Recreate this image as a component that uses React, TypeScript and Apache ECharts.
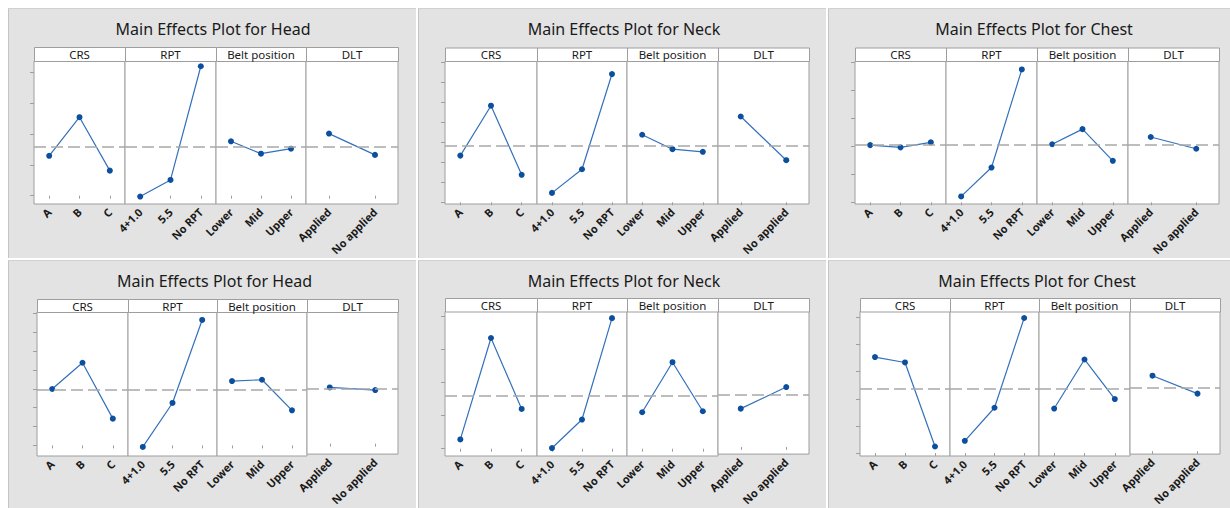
import React, { useEffect, useRef } from 'react';
import * as echarts from 'echarts';

// ---------- data ----------
const factorNames = ['CRS', 'RPT', 'Belt position', 'DLT'];
const crsLevels = ['A', 'B', 'C'];
const rptLevels = ['4+1.0', '5.5', 'No RPT'];
const beltLevels = ['Lower', 'Mid', 'Upper'];
const dltLevels = ['Applied', 'No applied'];
const levelSets = [crsLevels, rptLevels, beltLevels, dltLevels];

const plotTitles = [
  'Main Effects Plot for Head',
  'Main Effects Plot for Neck',
  'Main Effects Plot for Chest',
  'Main Effects Plot for Head',
  'Main Effects Plot for Neck',
  'Main Effects Plot for Chest',
];

// mean response per factor level (CRS, RPT, Belt position, DLT)
const headTopMeans = [[1.29, 2.54, 0.81], [-0.03, 0.51, 4.19], [1.76, 1.36, 1.52], [2.01, 1.32]];
const neckTopMeans = [[2.33, 4.82, 1.37], [0.47, 1.65, 6.4], [3.37, 2.65, 2.52], [4.28, 2.1]];
const chestTopMeans = [[2.04, 1.96, 2.14], [0.21, 1.24, 4.74], [2.07, 2.61, 1.48], [2.33, 1.91]];
const headBottomMeans = [[2.99, 4.38, 1.42], [-0.08, 2.25, 6.65], [3.41, 3.48, 1.86], [3.02, 2.88]];
const neckBottomMeans = [[0.28, 3.34, 1.2], [0.02, 0.88, 3.94], [1.1, 2.61, 1.13], [1.17, 1.83]];
const chestBottomMeans = [[3.54, 3.34, 0.24], [0.45, 1.67, 4.98], [1.64, 3.45, 1.99], [2.82, 2.15]];
const plotMeans = [headTopMeans, neckTopMeans, chestTopMeans, headBottomMeans, neckBottomMeans, chestBottomMeans];

const grandMeans = [1.57, 2.83, 2.06, 2.94, 1.59, 2.36];

const yTicks = [
  [0, 1, 2, 3, 4],
  [0, 1, 2, 3, 4, 5, 6, 7],
  [0, 1, 2, 3, 4, 5],
  [0, 1, 2, 3, 4, 5, 6, 7],
  [0, 1, 2, 3, 4],
  [0, 1, 2, 3, 4, 5],
];
const yRanges = [
  [-0.27, 4.36],
  [-0.085, 7.05],
  [-0.06, 5.04],
  [-0.56, 7.07],
  [-0.22, 4.14],
  [-0.11, 5.22],
];

// ---------- layout ----------
const tiles = [
  [8, 8, 408, 250],
  [418, 8, 408, 250],
  [828, 8, 402, 250],
  [8, 260, 408, 248],
  [418, 260, 408, 248],
  [828, 260, 402, 248],
];
const frames = [
  { xs: [34, 125, 216, 306, 398], hTop: 47, pTop: 61, pBot: 204, titleY: 29 },
  { xs: [445, 537, 627, 718, 809], hTop: 47.5, pTop: 61, pBot: 204, titleY: 29 },
  { xs: [855, 946, 1037, 1128, 1219], hTop: 47.5, pTop: 61, pBot: 204, titleY: 29 },
  { xs: [37, 128, 217, 307, 398], hTop: 299, pTop: 312, pBot: 456, titleY: 281 },
  { xs: [445, 537, 627, 718, 809], hTop: 298, pTop: 311.5, pBot: 456, titleY: 281 },
  { xs: [860, 950, 1039, 1130, 1220], hTop: 298, pTop: 311.5, pBot: 456, titleY: 281 },
];

const FONT = '"Noto Sans", "Open Sans", Arial, sans-serif';
const LINE_BLUE = '#3370bb';
const DOT_BLUE = '#0b4f9e';
const FRAME_GREY = '#9e9e9e';

function buildOption() {
  const grid: any[] = [];
  const xAxis: any[] = [];
  const yAxis: any[] = [];
  const series: any[] = [];
  const graphic: any[] = [];

  tiles.forEach(([x, y, w, h]) => {
    graphic.push({
      type: 'rect', z: -10, silent: true,
      shape: { x, y, width: w, height: h },
      style: { fill: '#e3e3e3' },
    });
    graphic.push({
      type: 'line', z: -9, silent: true,
      shape: { x1: x + 0.5, y1: y, x2: x + 0.5, y2: y + h },
      style: { stroke: '#c4c4c4', lineWidth: 1 },
    });
    graphic.push({
      type: 'line', z: -9, silent: true,
      shape: { x1: x, y1: y + 0.5, x2: x + w, y2: y + 0.5 },
      style: { stroke: '#d0d0d0', lineWidth: 1 },
    });
  });

  frames.forEach((fr, p) => {
    const left = fr.xs[0];
    const right = fr.xs[4];
    graphic.push({
      type: 'text', z: 10, silent: true,
      x: (left + right) / 2 - 3, y: fr.titleY,
      style: {
        text: plotTitles[p], fill: '#1a1a1a', fontSize: 16, fontFamily: FONT,
        align: 'center', verticalAlign: 'middle',
      },
    });
    for (let f = 0; f < 4; f++) {
      const x0 = fr.xs[f];
      const x1 = fr.xs[f + 1];
      graphic.push({
        type: 'rect', z: 10, silent: true,
        shape: { x: x0 + 0.5, y: fr.hTop + 0.5, width: x1 - x0, height: fr.pTop - fr.hTop },
        style: { fill: '#ffffff', stroke: FRAME_GREY, lineWidth: 1 },
      });
      graphic.push({
        type: 'text', z: 11, silent: true,
        x: (x0 + x1) / 2, y: (fr.hTop + fr.pTop) / 2 + 0.5,
        style: {
          text: factorNames[f], fill: '#1a1a1a', fontSize: 11.5, fontFamily: FONT,
          align: 'center', verticalAlign: 'middle',
        },
      });

      const idx = p * 4 + f;
      grid.push({
        left: x0, top: fr.pTop, width: x1 - x0, height: fr.pBot - fr.pTop,
        show: true, backgroundColor: '#ffffff', borderColor: FRAME_GREY, borderWidth: 1,
        containLabel: false,
      });
      xAxis.push({
        type: 'category', gridIndex: idx, data: levelSets[f], boundaryGap: true,
        axisLine: { show: false },
        axisTick: { show: true, alignWithLabel: true, length: 3, lineStyle: { color: FRAME_GREY } },
        axisLabel: {
          show: true, interval: 0, rotate: 45, margin: 6, fontSize: 11, fontWeight: 'bold',
          color: '#1a1a1a', fontFamily: FONT,
        },
        splitLine: { show: false },
      });
      yAxis.push({
        type: 'value', gridIndex: idx, min: yRanges[p][0], max: yRanges[p][1],
        show: f === 0,
        axisLine: { show: false },
        axisTick: { show: f === 0, length: 4, customValues: yTicks[p], lineStyle: { color: FRAME_GREY } },
        axisLabel: { show: false },
        splitLine: { show: false },
      });
      series.push({
        type: 'line', xAxisIndex: idx, yAxisIndex: idx,
        data: plotMeans[p][f],
        symbol: 'circle', symbolSize: 6, showSymbol: true,
        lineStyle: { color: LINE_BLUE, width: 1.2 },
        itemStyle: { color: DOT_BLUE },
        silent: true,
        markLine: {
          silent: true, symbol: ['none', 'none'], label: { show: false },
          lineStyle: { color: '#a8a8a8', type: [12, 5], width: 1.5 },
          data: [{ yAxis: grandMeans[p] }],
        },
        z: 3,
      });
    }
  });

  return {
    animation: false,
    backgroundColor: '#ffffff',
    grid, xAxis, yAxis, series, graphic,
  };
}

export default function App() {
  const ref = useRef<HTMLDivElement>(null);
  useEffect(() => {
    if (!ref.current) return;
    const chart = echarts.init(ref.current, undefined, { renderer: 'svg' });
    chart.setOption(buildOption() as any);
    return () => chart.dispose();
  }, []);
  return (
    <div
      ref={ref}
      style={{ position: 'fixed', left: 0, top: 0, width: 1230, height: 508 }}
    />
  );
}
